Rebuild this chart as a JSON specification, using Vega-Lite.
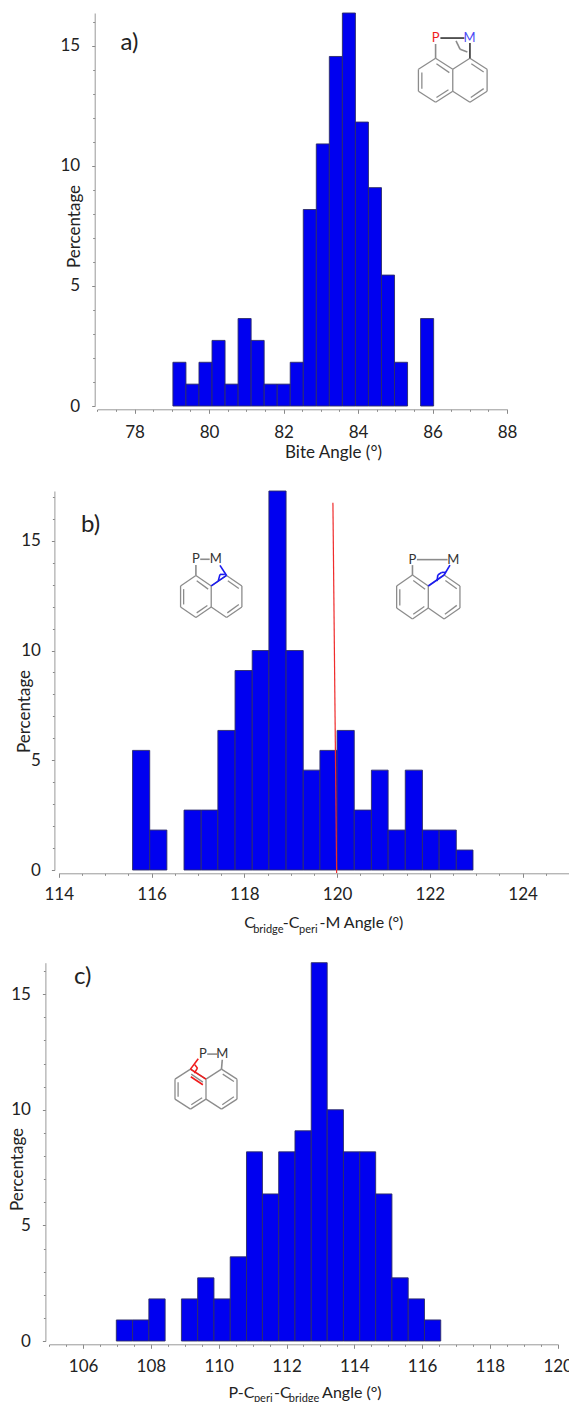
{
"$schema":"https://vega.github.io/schema/vega-lite/v6.json",
"padding":{"left":0,"right":0,"top":12,"bottom":0},
"bounds":"flush","spacing":85,
"config":{"view":{"stroke":null},"font":"Lato","text":{"font":"Lato"},
 "axis":{"grid":false,"labelFont":"Lato","titleFont":"Lato","labelColor":"#222","titleColor":"#222","titleFontWeight":"normal","labelFontSize":17,"titleFontSize":17,"domainColor":"#999","tickColor":"#888","labelFlush":false}},
"datasets":{
"skeleton":[
{"x":-1,"y":1.5,"x2":0,"y2":1,"kind":"ring"},{"x":0,"y":1,"x2":0,"y2":0,"kind":"ring"},{"x":0,"y":0,"x2":-1,"y2":-0.5,"kind":"ring"},{"x":-1,"y":-0.5,"x2":-2,"y2":0,"kind":"ring"},{"x":-2,"y":0,"x2":-2,"y2":1,"kind":"ring"},{"x":-2,"y":1,"x2":-1,"y2":1.5,"kind":"ring"},
{"x":0,"y":1,"x2":1,"y2":1.5,"kind":"ring"},{"x":1,"y":1.5,"x2":2,"y2":1,"kind":"ring"},{"x":2,"y":1,"x2":2,"y2":0,"kind":"ring"},{"x":2,"y":0,"x2":1,"y2":-0.5,"kind":"ring"},{"x":1,"y":-0.5,"x2":0,"y2":0,"kind":"ring"},
{"x":-1.8,"y":0.85,"x2":-1.8,"y2":0.12,"kind":"ring"},{"x":-0.95,"y":1.25,"x2":-0.2,"y2":0.85,"kind":"ring"},{"x":-0.95,"y":-0.28,"x2":-0.25,"y2":0.07,"kind":"ring"},
{"x":1.08,"y":1.25,"x2":1.8,"y2":0.88,"kind":"ring"},{"x":1.05,"y":-0.28,"x2":1.8,"y2":0.12,"kind":"ring"}],
"bondsA":[
{"x":-1,"y":2.15,"x2":-1,"y2":1.5,"kind":"ring"},{"x":-0.72,"y":2.42,"x2":0.68,"y2":2.42,"kind":"dark"},{"x":1,"y":2.2,"x2":1,"y2":1.5,"kind":"dark"},
{"x":0.19,"y":2.29,"x2":0.43,"y2":1.91,"kind":"ring"},{"x":0.43,"y":1.91,"x2":0.85,"y2":1.79,"kind":"ring"}],
"atomsA":[{"x":-0.99,"y":2.42,"label":"P","kind":"red"},{"x":0.97,"y":2.42,"label":"M","kind":"atomBlue"}],
"bondsB1":[
{"x":-1,"y":2.0,"x2":-1,"y2":1.5,"kind":"ring"},{"x":-0.72,"y":2.27,"x2":-0.1,"y2":2.27,"kind":"ring"},
{"x":0,"y":1,"x2":1,"y2":1.5,"kind":"blue"},{"x":1,"y":1.5,"x2":0.57,"y2":1.98,"kind":"blue"},
{"x":0.46,"y":1.24,"x2":0.57,"y2":1.55,"kind":"blue"},{"x":0.57,"y":1.55,"x2":0.89,"y2":1.55,"kind":"blue"}],
"atomsB1":[{"x":-1,"y":2.27,"label":"P","kind":"dark"},{"x":0.3,"y":2.27,"label":"M","kind":"dark"}],
"bondsB2":[
{"x":-1,"y":1.95,"x2":-1,"y2":1.5,"kind":"ring"},{"x":-0.72,"y":2.2,"x2":1.22,"y2":2.2,"kind":"ring"},
{"x":0,"y":1,"x2":1,"y2":1.5,"kind":"blue"},{"x":1,"y":1.5,"x2":1.37,"y2":1.95,"kind":"blue"},
{"x":0.55,"y":1.22,"x2":0.6,"y2":1.5,"kind":"blue"},{"x":0.6,"y":1.5,"x2":0.85,"y2":1.62,"kind":"blue"},{"x":0.85,"y":1.62,"x2":1.12,"y2":1.62,"kind":"blue"}],
"atomsB2":[{"x":-1,"y":2.2,"label":"P","kind":"dark"},{"x":1.58,"y":2.2,"label":"M","kind":"dark"}],
"bondsC":[
{"x":0.08,"y":2.25,"x2":0.72,"y2":2.25,"kind":"ring"},{"x":1.05,"y":1.97,"x2":1,"y2":1.5,"kind":"ring"},
{"x":-1,"y":1.5,"x2":-0.5,"y2":2.02,"kind":"red"},{"x":-1,"y":1.5,"x2":0,"y2":1,"kind":"red"},{"x":-0.98,"y":1.12,"x2":-0.2,"y2":0.72,"kind":"red"},
{"x":-0.75,"y":1.3,"x2":-0.55,"y2":1.55,"kind":"red"},{"x":-0.55,"y":1.55,"x2":-0.72,"y2":1.72,"kind":"red"}],
"atomsC":[{"x":-0.2,"y":2.25,"label":"P","kind":"dark"},{"x":1.05,"y":2.25,"label":"M","kind":"dark"}]
},
"vconcat":[
{"width":569,"height":393,"resolve":{"scale":{"x":"independent","y":"independent"}},
"layer":[
{"data":{"values":[{"x":77,"y":0}]},"mark":{"type":"point","opacity":0},
"encoding":{
"x":{"field":"x","type":"quantitative","scale":{"domain":[77,88],"range":[97.3,507],"nice":false,"zero":false},
"axis":{"orient":"bottom","title":null,"offset":3.3,"labels":false,"domain":false,"tickSize":2,"values":[77,77.5,78,78.5,79,79.5,80,80.5,81,81.5,82,82.5,83,83.5,84,84.5,85,85.5,86,86.5,87,87.5,88]}},
"y":{"field":"y","type":"quantitative","scale":{"domain":[0,16.36],"range":[393,0],"nice":false},
"axis":{"orient":"left","title":null,"offset":-94.7,"labels":false,"domain":false,"tickSize":2,"values":[0,1,2,3,4,5,6,7,8,9,10,11,12,13,14,15,16]}}}},
{"layer":[
{"data":{"values":[
{"start":79.03,"end":79.38,"pct":1.82},{"start":79.38,"end":79.73,"pct":0.91},{"start":79.73,"end":80.08,"pct":1.82},{"start":80.08,"end":80.43,"pct":2.73},{"start":80.43,"end":80.78,"pct":0.91},{"start":80.78,"end":81.13,"pct":3.64},{"start":81.13,"end":81.48,"pct":2.73},{"start":81.48,"end":81.83,"pct":0.91},{"start":81.83,"end":82.18,"pct":0.91},{"start":82.18,"end":82.53,"pct":1.82},{"start":82.53,"end":82.88,"pct":8.18},{"start":82.88,"end":83.23,"pct":10.91},{"start":83.23,"end":83.58,"pct":14.55},{"start":83.58,"end":83.93,"pct":16.36},{"start":83.93,"end":84.28,"pct":11.82},{"start":84.28,"end":84.63,"pct":9.09},{"start":84.63,"end":84.98,"pct":5.45},{"start":84.98,"end":85.33,"pct":1.82},{"start":85.68,"end":86.03,"pct":3.64}]},
"mark":{"type":"bar","fill":"#0000f0","stroke":"#2c2c68","strokeWidth":0.9},
"encoding":{
"x":{"field":"start","type":"quantitative","scale":{"domain":[77,88],"range":[97.3,507],"nice":false,"zero":false},
"axis":{"orient":"bottom","title":"Bite Angle (°)","titleX":333,"titleY":35,"offset":3.3,"labelPadding":11,"tickSize":4,"values":[78,80,82,84,86,88]}},
"x2":{"field":"end"},
"y":{"field":"pct","type":"quantitative","scale":{"domain":[0,16.36],"range":[393,0],"nice":false},
"axis":{"orient":"left","title":"Percentage","titleX":-11,"titleY":213,"offset":-94.7,"labelPadding":12,"tickSize":3,"values":[0,5,10,15]}},
"y2":{"datum":0}}},
{"data":{"values":[{"x":77.62,"y":15.1,"label":"a)"}]},
"mark":{"type":"text","align":"left","baseline":"middle","fontSize":24,"color":"#222"},
"encoding":{"x":{"field":"x","type":"quantitative","scale":{"domain":[77,88],"range":[97.3,507],"nice":false,"zero":false}},"y":{"field":"y","type":"quantitative","scale":{"domain":[0,16.36],"range":[393,0],"nice":false}},"text":{"field":"label"}}}
]},
{"layer":[
{"data":{"name":"skeleton"},"mark":{"type":"rule","strokeWidth":1.3,"color":"#8c8c8c"},
"encoding":{"x":{"field":"x","type":"quantitative","axis":null,"scale":{"domain":[-26.37,6.77],"range":[0,569],"nice":false,"zero":false}},"x2":{"field":"x2"},"y":{"field":"y","type":"quantitative","axis":null,"scale":{"domain":[-14.305,3.559],"range":[393,0],"nice":false,"zero":false}},"y2":{"field":"y2"}}},
{"data":{"name":"bondsA"},"mark":{"type":"rule","strokeWidth":1.6},
"encoding":{"x":{"field":"x","type":"quantitative","axis":null,"scale":{"domain":[-26.37,6.77],"range":[0,569],"nice":false,"zero":false}},"x2":{"field":"x2"},"y":{"field":"y","type":"quantitative","axis":null,"scale":{"domain":[-14.305,3.559],"range":[393,0],"nice":false,"zero":false}},"y2":{"field":"y2"},
"color":{"field":"kind","legend":null,"scale":{"domain":["ring","dark","blue","red","atomBlue"],"range":["#8c8c8c","#333333","#1a1af0","#f01c1c","#4a4af5"]}}}},
{"data":{"name":"atomsA"},"mark":{"type":"text","fontSize":13,"align":"center","baseline":"middle"},
"encoding":{"x":{"field":"x","type":"quantitative","axis":null,"scale":{"domain":[-26.37,6.77],"range":[0,569],"nice":false,"zero":false}},"y":{"field":"y","type":"quantitative","axis":null,"scale":{"domain":[-14.305,3.559],"range":[393,0],"nice":false,"zero":false}},"text":{"field":"label"},
"color":{"field":"kind","legend":null,"scale":{"domain":["ring","dark","blue","red","atomBlue"],"range":["#8c8c8c","#333333","#1a1af0","#f01c1c","#4a4af5"]}}}}
]}
]},
{"width":569,"height":379,"resolve":{"scale":{"x":"independent","y":"independent"}},
"layer":[
{"data":{"values":[{"x":114,"y":0}]},"mark":{"type":"point","opacity":0},
"encoding":{
"x":{"field":"x","type":"quantitative","scale":{"domain":[114,125],"range":[58.8,569],"nice":false,"zero":false},
"axis":{"orient":"bottom","title":null,"offset":3.3,"labels":false,"domain":false,"tickSize":2,"values":[114,114.5,115,115.5,116,116.5,117,117.5,118,118.5,119,119.5,120,120.5,121,121.5,122,122.5,123,123.5,124,124.5,125]}},
"y":{"field":"y","type":"quantitative","scale":{"domain":[0,17.27],"range":[379,0],"nice":false},
"axis":{"orient":"left","title":null,"offset":-54.4,"labels":false,"domain":false,"tickSize":2,"values":[0,1,2,3,4,5,6,7,8,9,10,11,12,13,14,15,16,17]}}}},
{"layer":[
{"data":{"values":[
{"start":115.59,"end":115.96,"pct":5.45},{"start":115.96,"end":116.33,"pct":1.82},{"start":116.7,"end":117.07,"pct":2.73},{"start":117.07,"end":117.43,"pct":2.73},{"start":117.43,"end":117.8,"pct":6.36},{"start":117.8,"end":118.17,"pct":9.09},{"start":118.17,"end":118.53,"pct":10},{"start":118.53,"end":118.9,"pct":17.27},{"start":118.9,"end":119.27,"pct":10},{"start":119.27,"end":119.63,"pct":4.55},{"start":119.63,"end":120,"pct":5.45},{"start":120,"end":120.37,"pct":6.36},{"start":120.37,"end":120.74,"pct":2.73},{"start":120.74,"end":121.1,"pct":4.55},{"start":121.1,"end":121.47,"pct":1.82},{"start":121.47,"end":121.84,"pct":4.55},{"start":121.84,"end":122.2,"pct":1.82},{"start":122.2,"end":122.57,"pct":1.82},{"start":122.57,"end":122.93,"pct":0.91}]},
"mark":{"type":"bar","fill":"#0000f0","stroke":"#2c2c68","strokeWidth":0.9},
"encoding":{
"x":{"field":"start","type":"quantitative","scale":{"domain":[114,125],"range":[58.8,569],"nice":false,"zero":false},
"axis":{"orient":"bottom","title":null,"offset":3.3,"labelPadding":9,"tickSize":4,"values":[114,116,118,120,122,124]}},
"x2":{"field":"end"},
"y":{"field":"pct","type":"quantitative","scale":{"domain":[0,17.27],"range":[379,0],"nice":false},
"axis":{"orient":"left","title":"Percentage","titleX":-21,"titleY":220,"offset":-54.4,"labelPadding":11,"tickSize":3,"values":[0,5,10,15]}},
"y2":{"datum":0}}},
{"data":{"values":[{"x":119.91,"y":16.74,"x2":119.99,"y2":-0.14}]},
"mark":{"type":"rule","color":"#f02c2c","strokeWidth":1.2},
"encoding":{"x":{"field":"x","type":"quantitative","scale":{"domain":[114,125],"range":[58.8,569],"nice":false,"zero":false}},"x2":{"field":"x2"},"y":{"field":"y","type":"quantitative","scale":{"domain":[0,17.27],"range":[379,0],"nice":false}},"y2":{"field":"y2"}}},
{"data":{"values":[
{"x":114.48,"y":15.4,"label":"b)","size":"big"},
{"x":118.0,"y":-2.65,"label":"C","size":"main"},{"x":118.19,"y":-2.88,"label":"bridge","size":"sub"},{"x":118.83,"y":-2.65,"label":"-C","size":"main"},{"x":119.18,"y":-2.88,"label":"peri","size":"sub"},{"x":119.62,"y":-2.65,"label":"-M Angle (°)","size":"main"}]},
"mark":{"type":"text","align":"left","baseline":"alphabetic","color":"#222"},
"encoding":{"x":{"field":"x","type":"quantitative","scale":{"domain":[114,125],"range":[58.8,569],"nice":false,"zero":false}},"y":{"field":"y","type":"quantitative","scale":{"domain":[0,17.27],"range":[379,0],"nice":false}},"text":{"field":"label"},
"size":{"field":"size","type":"nominal","legend":null,"scale":{"type":"ordinal","domain":["big","main","sub"],"range":[24,16,11]}}}}
]},
{"layer":[
{"data":{"name":"skeleton"},"mark":{"type":"rule","strokeWidth":1.3,"color":"#8c8c8c"},
"encoding":{"x":{"field":"x","type":"quantitative","axis":null,"scale":{"domain":[-13.78,23.34],"range":[0,569],"nice":false,"zero":false}},"x2":{"field":"x2"},"y":{"field":"y","type":"quantitative","axis":null,"scale":{"domain":[-12.52,5.52],"range":[379,0],"nice":false,"zero":false}},"y2":{"field":"y2"}}},
{"data":{"name":"bondsB1"},"mark":{"type":"rule","strokeWidth":1.6},
"encoding":{"x":{"field":"x","type":"quantitative","axis":null,"scale":{"domain":[-13.78,23.34],"range":[0,569],"nice":false,"zero":false}},"x2":{"field":"x2"},"y":{"field":"y","type":"quantitative","axis":null,"scale":{"domain":[-12.52,5.52],"range":[379,0],"nice":false,"zero":false}},"y2":{"field":"y2"},
"color":{"field":"kind","legend":null,"scale":{"domain":["ring","dark","blue","red","atomBlue"],"range":["#8c8c8c","#333333","#1a1af0","#f01c1c","#4a4af5"]}}}},
{"data":{"name":"atomsB1"},"mark":{"type":"text","fontSize":13,"align":"center","baseline":"middle"},
"encoding":{"x":{"field":"x","type":"quantitative","axis":null,"scale":{"domain":[-13.78,23.34],"range":[0,569],"nice":false,"zero":false}},"y":{"field":"y","type":"quantitative","axis":null,"scale":{"domain":[-12.52,5.52],"range":[379,0],"nice":false,"zero":false}},"text":{"field":"label"},
"color":{"field":"kind","legend":null,"scale":{"domain":["ring","dark","blue","red","atomBlue"],"range":["#8c8c8c","#333333","#1a1af0","#f01c1c","#4a4af5"]}}}}
]},
{"layer":[
{"data":{"name":"skeleton"},"mark":{"type":"rule","strokeWidth":1.3,"color":"#8c8c8c"},
"encoding":{"x":{"field":"x","type":"quantitative","axis":null,"scale":{"domain":[-27.06,8.89],"range":[0,569],"nice":false,"zero":false}},"x2":{"field":"x2"},"y":{"field":"y","type":"quantitative","axis":null,"scale":{"domain":[-11.91,5.32],"range":[379,0],"nice":false,"zero":false}},"y2":{"field":"y2"}}},
{"data":{"name":"bondsB2"},"mark":{"type":"rule","strokeWidth":1.6},
"encoding":{"x":{"field":"x","type":"quantitative","axis":null,"scale":{"domain":[-27.06,8.89],"range":[0,569],"nice":false,"zero":false}},"x2":{"field":"x2"},"y":{"field":"y","type":"quantitative","axis":null,"scale":{"domain":[-11.91,5.32],"range":[379,0],"nice":false,"zero":false}},"y2":{"field":"y2"},
"color":{"field":"kind","legend":null,"scale":{"domain":["ring","dark","blue","red","atomBlue"],"range":["#8c8c8c","#333333","#1a1af0","#f01c1c","#4a4af5"]}}}},
{"data":{"name":"atomsB2"},"mark":{"type":"text","fontSize":13,"align":"center","baseline":"middle"},
"encoding":{"x":{"field":"x","type":"quantitative","axis":null,"scale":{"domain":[-27.06,8.89],"range":[0,569],"nice":false,"zero":false}},"y":{"field":"y","type":"quantitative","axis":null,"scale":{"domain":[-11.91,5.32],"range":[379,0],"nice":false,"zero":false}},"text":{"field":"label"},
"color":{"field":"kind","legend":null,"scale":{"domain":["ring","dark","blue","red","atomBlue"],"range":["#8c8c8c","#333333","#1a1af0","#f01c1c","#4a4af5"]}}}}
]}
]},
{"width":569,"height":386,"resolve":{"scale":{"x":"independent","y":"independent"}},
"layer":[
{"data":{"values":[{"x":105,"y":0}]},"mark":{"type":"point","opacity":0},
"encoding":{
"x":{"field":"x","type":"quantitative","scale":{"domain":[105,120],"range":[49.2,557.7],"nice":false,"zero":false},
"axis":{"orient":"bottom","title":null,"offset":3.3,"labels":false,"domain":false,"tickSize":2,"values":[105,105.5,106,106.5,107,107.5,108,108.5,109,109.5,110,110.5,111,111.5,112,112.5,113,113.5,114,114.5,115,115.5,116,116.5,117,117.5,118,118.5,119,119.5,120]}},
"y":{"field":"y","type":"quantitative","scale":{"domain":[0,16.36],"range":[386,7.7],"nice":false},
"axis":{"orient":"left","title":null,"offset":-45.4,"labels":false,"domain":false,"tickSize":2,"values":[0,1,2,3,4,5,6,7,8,9,10,11,12,13,14,15,16]}}}},
{"layer":[
{"data":{"values":[
{"start":106.98,"end":107.46,"pct":0.91},{"start":107.46,"end":107.94,"pct":0.91},{"start":107.94,"end":108.42,"pct":1.82},{"start":108.9,"end":109.38,"pct":1.82},{"start":109.38,"end":109.86,"pct":2.73},{"start":109.86,"end":110.34,"pct":1.82},{"start":110.34,"end":110.82,"pct":3.64},{"start":110.82,"end":111.29,"pct":8.18},{"start":111.29,"end":111.77,"pct":6.36},{"start":111.77,"end":112.25,"pct":8.18},{"start":112.25,"end":112.73,"pct":9.09},{"start":112.73,"end":113.2,"pct":16.36},{"start":113.2,"end":113.68,"pct":10},{"start":113.68,"end":114.16,"pct":8.18},{"start":114.16,"end":114.63,"pct":8.18},{"start":114.63,"end":115.11,"pct":6.36},{"start":115.11,"end":115.59,"pct":2.73},{"start":115.59,"end":116.07,"pct":1.82},{"start":116.07,"end":116.55,"pct":0.91}]},
"mark":{"type":"bar","fill":"#0000f0","stroke":"#2c2c68","strokeWidth":0.9},
"encoding":{
"x":{"field":"start","type":"quantitative","scale":{"domain":[105,120],"range":[49.2,557.7],"nice":false,"zero":false},
"axis":{"orient":"bottom","title":null,"offset":3.3,"labelPadding":10,"tickSize":4,"values":[106,108,110,112,114,116,118,120]}},
"x2":{"field":"end"},
"y":{"field":"pct","type":"quantitative","scale":{"domain":[0,16.36],"range":[386,7.7],"nice":false},
"axis":{"orient":"left","title":"Percentage","titleX":-19,"titleY":214,"offset":-45.4,"labelPadding":12,"tickSize":3,"values":[0,5,10,15]}},
"y2":{"datum":0}}},
{"data":{"values":[
{"x":105.73,"y":15.43,"label":"c)","size":"big"},
{"x":110.29,"y":-2.46,"label":"P-C","size":"main"},{"x":111.04,"y":-2.62,"label":"peri","size":"sub"},{"x":111.63,"y":-2.46,"label":"-C","size":"main"},{"x":112.07,"y":-2.62,"label":"bridge","size":"sub"},{"x":113.05,"y":-2.46,"label":"Angle (°)","size":"main"}]},
"mark":{"type":"text","align":"left","baseline":"alphabetic","color":"#222"},
"encoding":{"x":{"field":"x","type":"quantitative","scale":{"domain":[105,120],"range":[49.2,557.7],"nice":false,"zero":false}},"y":{"field":"y","type":"quantitative","scale":{"domain":[0,16.36],"range":[386,7.7],"nice":false}},"text":{"field":"label"},
"size":{"field":"size","type":"nominal","legend":null,"scale":{"type":"ordinal","domain":["big","main","sub"],"range":[24,16,11]}}}}
]},
{"layer":[
{"data":{"name":"skeleton"},"mark":{"type":"rule","strokeWidth":1.3,"color":"#8c8c8c"},
"encoding":{"x":{"field":"x","type":"quantitative","axis":null,"scale":{"domain":[-13.29,23.42],"range":[0,569],"nice":false,"zero":false}},"x2":{"field":"x2"},"y":{"field":"y","type":"quantitative","axis":null,"scale":{"domain":[-12.08,7.2],"range":[386,0],"nice":false,"zero":false}},"y2":{"field":"y2"}}},
{"data":{"name":"bondsC"},"mark":{"type":"rule","strokeWidth":1.6},
"encoding":{"x":{"field":"x","type":"quantitative","axis":null,"scale":{"domain":[-13.29,23.42],"range":[0,569],"nice":false,"zero":false}},"x2":{"field":"x2"},"y":{"field":"y","type":"quantitative","axis":null,"scale":{"domain":[-12.08,7.2],"range":[386,0],"nice":false,"zero":false}},"y2":{"field":"y2"},
"color":{"field":"kind","legend":null,"scale":{"domain":["ring","dark","blue","red","atomBlue"],"range":["#8c8c8c","#333333","#1a1af0","#f01c1c","#4a4af5"]}}}},
{"data":{"name":"atomsC"},"mark":{"type":"text","fontSize":13,"align":"center","baseline":"middle"},
"encoding":{"x":{"field":"x","type":"quantitative","axis":null,"scale":{"domain":[-13.29,23.42],"range":[0,569],"nice":false,"zero":false}},"y":{"field":"y","type":"quantitative","axis":null,"scale":{"domain":[-12.08,7.2],"range":[386,0],"nice":false,"zero":false}},"text":{"field":"label"},
"color":{"field":"kind","legend":null,"scale":{"domain":["ring","dark","blue","red","atomBlue"],"range":["#8c8c8c","#333333","#1a1af0","#f01c1c","#4a4af5"]}}}}
]}
]}
]}
